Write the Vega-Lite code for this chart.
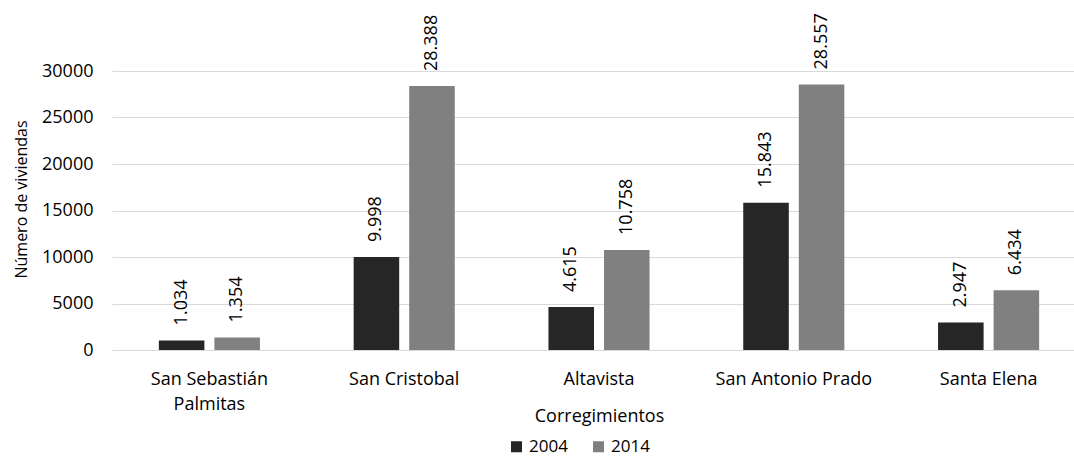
{
  "$schema": "https://vega.github.io/schema/vega-lite/v6.json",
  "width": 962,
  "height": 279,
  "autosize": {"type": "none"},
  "padding": {"left": 112, "top": 71, "right": 0, "bottom": 108},
  "background": "white",
  "config": {
    "font": "Open Sans",
    "view": {"stroke": null},
    "locale": {"number": {"decimal": ",", "thousands": ".", "grouping": [3], "currency": ["$", ""]}}
  },
  "data": {
    "values": [
      {"corregimiento": "San Sebastián Palmitas", "year": "2004", "viviendas": 1034},
      {"corregimiento": "San Sebastián Palmitas", "year": "2014", "viviendas": 1354},
      {"corregimiento": "San Cristobal", "year": "2004", "viviendas": 9998},
      {"corregimiento": "San Cristobal", "year": "2014", "viviendas": 28388},
      {"corregimiento": "Altavista", "year": "2004", "viviendas": 4615},
      {"corregimiento": "Altavista", "year": "2014", "viviendas": 10758},
      {"corregimiento": "San Antonio Prado", "year": "2004", "viviendas": 15843},
      {"corregimiento": "San Antonio Prado", "year": "2014", "viviendas": 28557},
      {"corregimiento": "Santa Elena", "year": "2004", "viviendas": 2947},
      {"corregimiento": "Santa Elena", "year": "2014", "viviendas": 6434}
    ]
  },
  "encoding": {
    "x": {
      "field": "corregimiento",
      "type": "nominal",
      "sort": null,
      "scale": {"paddingInner": 0.481, "paddingOuter": 0.2405, "range": [0, 974]},
      "axis": {
        "title": "Corregimientos",
        "titleFontSize": 18,
        "titleFontWeight": "normal",
        "titleColor": "#000000",
        "titleBaseline": "alphabetic",
        "titleY": 71,
        "labelAngle": 0,
        "labelFontSize": 18,
        "labelColor": "#000000",
        "labelPadding": 20,
        "labelLineHeight": 25,
        "labelOverlap": false,
        "labelExpr": "datum.label == 'San Sebastián Palmitas' ? ['San Sebastián', 'Palmitas'] : datum.label",
        "ticks": false,
        "domainColor": "#d9d9d9",
        "domainWidth": 1
      }
    },
    "xOffset": {"field": "year", "type": "nominal", "scale": {"paddingInner": 0.18, "paddingOuter": 0}},
    "y": {
      "field": "viviendas",
      "type": "quantitative",
      "scale": {"domain": [0, 30000]},
      "axis": {
        "title": "Número de viviendas",
        "titleFontSize": 16,
        "titleFontWeight": "normal",
        "titleColor": "#000000",
        "titlePadding": 12,
        "titleY": 128,
        "format": "d",
        "values": [0, 5000, 10000, 15000, 20000, 25000, 30000],
        "labelOverlap": false,
        "labelFontSize": 18,
        "labelColor": "#000000",
        "labelPadding": 19,
        "ticks": false,
        "domain": false,
        "gridColor": "#d9d9d9",
        "gridWidth": 1
      }
    }
  },
  "layer": [
    {
      "mark": {"type": "bar"},
      "encoding": {
        "color": {
          "field": "year",
          "type": "nominal",
          "scale": {"domain": ["2004", "2014"], "range": ["#262626", "#808080"]},
          "legend": {
            "title": null,
            "orient": "none",
            "direction": "horizontal",
            "legendX": 396,
            "legendY": 367,
            "symbolType": "square",
            "symbolSize": 121,
            "symbolStrokeWidth": 0,
            "labelFontSize": 17,
            "labelColor": "#000000",
            "columnPadding": 22,
            "labelOffset": 4
          }
        }
      }
    },
    {
      "mark": {"type": "text", "angle": -90, "align": "left", "baseline": "middle", "dx": 15, "fontSize": 18, "color": "#000000", "clip": false},
      "encoding": {
        "text": {"field": "viviendas", "type": "quantitative", "format": ",d"}
      }
    }
  ]
}
